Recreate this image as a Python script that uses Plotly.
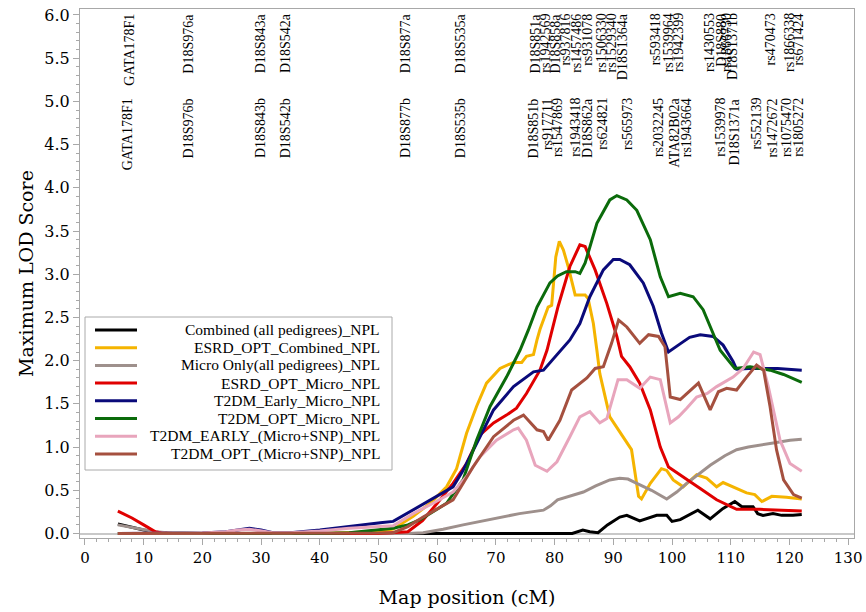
import plotly.graph_objects as go

# ---------------- data ----------------
series_names = [
    "Combined (all pedigrees)_NPL",
    "ESRD_OPT_Combined_NPL",
    "Micro Only(all pedigrees)_NPL",
    "ESRD_OPT_Micro_NPL",
    "T2DM_Early_Micro_NPL",
    "T2DM_OPT_Micro_NPL",
    "T2DM_EARLY_(Micro+SNP)_NPL",
    "T2DM_OPT_(Micro+SNP)_NPL",
]
series_colors = ["#000000", "#F5B400", "#9E908C", "#E00000",
                 "#0A0A7A", "#0B6B0B", "#E8A5BC", "#A5503F"]

combined_x = [5.6, 8, 10, 12, 14, 20, 30, 40, 50, 60, 70, 80, 83, 84.8, 86, 87.4, 89, 91.1, 92.3,
              94.5, 97.4, 99.1, 100, 101.4, 102.5, 104.4, 106.5, 108.7, 110.7, 111.9, 113.8,
              114.6, 115.5, 117.2, 118.7, 120.6, 122.1]
combined_y = [0.11, 0.07, 0.04, 0.015, 0.005, 0, 0, 0, 0, 0, 0, 0, 0, 0.04, 0.02, 0.01, 0.1,
              0.19, 0.21, 0.145, 0.21, 0.21, 0.14, 0.16, 0.2, 0.27, 0.17, 0.29, 0.37, 0.31,
              0.31, 0.23, 0.21, 0.23, 0.21, 0.21, 0.22]

esrd_comb_x = [5.6, 10, 20, 30, 40, 50, 52.5, 55.9, 58.8, 61.6, 63.3, 65, 66.7, 68.4, 70.7, 73,
               74.4, 75.2, 76.4, 77, 77.5, 78.9, 79.5, 80.2, 80.8, 81.5, 82.3, 83.5, 85.2, 85.7,
               86.6, 87.2, 87.7, 89.4, 91.7, 93.1, 94.3, 94.8, 96.3, 98.2, 99.1, 100.2, 101.9,
               104.2, 105.9, 107.6, 108.7, 110.4, 112.7, 114.1, 115.3, 117, 119.5, 122.1]
esrd_comb_y = [0, 0, 0, 0, 0, 0.02, 0.05, 0.2, 0.35, 0.54, 0.75, 1.16, 1.47, 1.74, 1.91, 1.98,
               1.98, 2.05, 2.07, 2.24, 2.36, 2.62, 2.64, 3.2, 3.38, 3.28, 3.09, 2.76, 2.76, 2.72,
               2.43, 2.12, 1.85, 1.35, 1.12, 0.97, 0.43, 0.40, 0.58, 0.75, 0.73, 0.62, 0.54,
               0.68, 0.64, 0.54, 0.59, 0.54, 0.47, 0.45, 0.37, 0.43, 0.42, 0.40]

micro_x = [5.6, 8, 10, 12, 14, 20, 30, 40, 50, 55, 57.6, 61, 64.4, 67.5, 70.7, 74, 78.1, 79.3,
           80.5, 82.5, 84.9, 87, 89.4, 91.1, 92.5, 94, 96.5, 99.1, 100.8, 102.5, 104.5, 106.5,
           109, 111, 113, 115, 117.5, 120.1, 122.1]
micro_y = [0.1, 0.07, 0.04, 0.02, 0.01, 0, 0, 0, 0, 0, 0.01, 0.05, 0.1, 0.14, 0.19, 0.23, 0.27,
           0.32, 0.39, 0.43, 0.48, 0.55, 0.62, 0.64, 0.63, 0.58, 0.5, 0.4, 0.48, 0.58, 0.68,
           0.79, 0.9, 0.97, 1.0, 1.02, 1.05, 1.08, 1.09]

esrd_micro_x = [5.6, 8, 10, 12, 13, 15, 20, 30, 40, 50, 55, 57.5, 60, 62.7, 65, 67.3, 69.6,
                71.8, 73.5, 75.2, 77.5, 78.7, 80.6, 82.6, 84.3, 85.2, 86.9, 88.9, 90.6, 91.4,
                92.8, 94.5, 96.3, 98, 99.4, 101.4, 104.8, 107.6, 109.9, 111, 115, 122.1]
esrd_micro_y = [0.26, 0.18, 0.1, 0.02, 0.005, 0, 0, 0, 0, 0, 0.02, 0.15, 0.35, 0.58, 0.81,
                1.14, 1.28, 1.37, 1.45, 1.62, 1.89, 2.12, 2.63, 3.09, 3.34, 3.32, 3.05, 2.66,
                2.28, 2.05, 1.93, 1.74, 1.43, 1.0, 0.77, 0.68, 0.52, 0.39, 0.31, 0.28, 0.28,
                0.26]

t2e_micro_x = [5.6, 10, 15, 20, 24, 26, 28, 30, 32, 35, 40, 45, 48, 50.3, 52.5, 55.9, 58.8,
               62.7, 64.4, 67.3, 69.6, 73, 76.4, 78.1, 80.4, 82.6, 84.3, 86, 88.3, 90, 91.1,
               92.8, 95.1, 96.8, 98.2, 99.4, 101.5, 103, 104.8, 107, 108.7, 110.4, 111, 113,
               115.6, 118, 122.1]
t2e_micro_y = [0, 0, 0, 0.005, 0.02, 0.04, 0.06, 0.04, 0.01, 0.01, 0.04, 0.08, 0.11, 0.125,
               0.14, 0.27, 0.39, 0.54, 0.73, 1.12, 1.43, 1.70, 1.87, 1.89, 2.07, 2.24, 2.43,
               2.74, 3.05, 3.17, 3.17, 3.11, 2.90, 2.63, 2.32, 2.10, 2.2, 2.27, 2.30, 2.28,
               2.18, 1.99, 1.90, 1.91, 1.91, 1.91, 1.89]

t2o_micro_x = [5.6, 20, 40, 45, 50, 52.5, 55, 57.1, 59, 61.6, 64.4, 66.7, 69, 71.8, 74.1, 75.5,
               77, 79.2, 80.5, 82, 83.5, 84.3, 85.2, 87.2, 89.4, 90.6, 92.3, 94, 96.3, 98, 99.4,
               100.5, 101.4, 103.6, 105.3, 108.2, 110.7, 113.3, 116.7, 119, 122.1]
t2o_micro_y = [0, 0, 0, 0.01, 0.04, 0.06, 0.1, 0.16, 0.24, 0.35, 0.62, 1.08, 1.47, 1.81, 2.12,
               2.35, 2.62, 2.90, 2.98, 3.03, 3.03, 3.01, 3.13, 3.59, 3.86, 3.91, 3.86, 3.74,
               3.40, 2.97, 2.74, 2.76, 2.78, 2.74, 2.59, 2.12, 1.91, 1.93, 1.89, 1.84, 1.75]

t2e_snp_x = [5.6, 10, 15, 20, 24, 26, 28, 30, 32, 35, 40, 45, 48, 50.3, 52.5, 55.9, 59.3, 62.7,
             65, 67.3, 70.1, 73, 73.8, 75.2, 76.7, 78.7, 80.4, 82.6, 84.3, 86, 87.7, 88.9,
             90.8, 92.3, 94.5, 96.3, 98, 99.7, 101.1, 102.5, 104.2, 106, 107.6, 110.4, 112.1,
             113.9, 115, 116.4, 118.4, 120.1, 122.1]
t2e_snp_y = [0, 0, 0, 0.005, 0.02, 0.04, 0.05, 0.03, 0.01, 0.01, 0.03, 0.06, 0.07, 0.08, 0.09,
             0.23, 0.35, 0.48, 0.66, 0.89, 1.08, 1.20, 1.22, 1.08, 0.79, 0.72, 0.83, 1.12, 1.35,
             1.41, 1.28, 1.33, 1.78, 1.78, 1.68, 1.81, 1.78, 1.28, 1.35, 1.45, 1.58, 1.62, 1.70,
             1.81, 1.91, 2.10, 2.07, 1.70, 1.08, 0.81, 0.72]

t2o_snp_x = [5.6, 20, 40, 50, 52.5, 55, 57.6, 60, 62.7, 66.1, 69.6, 73, 74.7, 77, 78.1, 78.9,
             80.9, 82.9, 84.3, 85.5, 86.9, 88.3, 89.7, 90.9, 92.3, 94.5, 96, 97.7, 98.8, 99.4,
             99.7, 101.4, 103.1, 104.5, 106.5, 107.9, 109.3, 111, 112.7, 114.4, 115.6, 116.7,
             117.8, 119, 120.7, 122.1]
t2o_snp_y = [0, 0, 0, 0.005, 0.01, 0.08, 0.19, 0.28, 0.39, 0.77, 1.12, 1.31, 1.37, 1.20, 1.18,
             1.08, 1.31, 1.66, 1.74, 1.80, 1.91, 1.93, 2.20, 2.47, 2.39, 2.20, 2.30, 2.28, 2.16,
             1.78, 1.58, 1.55, 1.66, 1.74, 1.43, 1.64, 1.68, 1.66, 1.81, 1.95, 1.89, 1.47, 0.97,
             0.62, 0.45, 0.41]

series_x = [combined_x, esrd_comb_x, micro_x, esrd_micro_x,
            t2e_micro_x, t2o_micro_x, t2e_snp_x, t2o_snp_x]
series_y = [combined_y, esrd_comb_y, micro_y, esrd_micro_y,
            t2e_micro_y, t2o_micro_y, t2e_snp_y, t2o_snp_y]

# marker labels (map positions in cM)
top_labels = ["GATA178F1", "D18S976a", "D18S843a", "D18S542a", "D18S877a", "D18S535a",
              "D18S851a", "rs1942569", "D18S858a", "rs937816", "rs1457486", "rs931078",
              "rs1506330", "rs1529340", "D18S1364a", "rs593418", "rs1539964", "rs1942399",
              "rs1430553", "D18S880", "rs1866730", "D18S1371b", "rs470473", "rs1866338",
              "rs671424"]
top_pos = [7.55, 17.6, 29.8, 34.2, 54.5, 63.9, 76.7, 78.5, 80.1, 81.8, 83.8, 85.6, 88.0, 89.7,
           91.7, 97.1, 99.4, 101.2, 106.5, 108.5, 109.4, 110.4, 116.7, 120.1, 121.5]
bottom_labels = ["GATA178F1", "D18S976b", "D18S843b", "D18S542b", "D18S877b", "D18S535b",
                 "D18S851b", "rs917711", "rs1547869", "rs1943418", "D18S862a", "rs624821",
                 "rs565973", "rs2032245", "ATA82B02a", "rs1943664", "rs1539978", "D18S1371a",
                 "rs552139", "rs1472672", "rs1075470", "rs1805272"]
bottom_pos = [7.2, 17.6, 29.8, 34.1, 54.5, 63.9, 76.4, 78.7, 80.5, 83.5, 85.5, 88.0, 92.3,
              97.7, 100.3, 102.5, 108.2, 110.7, 114.4, 117.2, 119.5, 121.5]

x_ticks = list(range(0, 131, 10))
y_ticks = [0.0, 0.5, 1.0, 1.5, 2.0, 2.5, 3.0, 3.5, 4.0, 4.5, 5.0, 5.5, 6.0]

# ---------------- figure ----------------
fig = go.Figure()
for name, col, xs, ys in zip(series_names, series_colors, series_x, series_y):
    fig.add_trace(go.Scatter(x=xs, y=ys, mode="lines", name=name,
                             line=dict(color=col, width=3), showlegend=False))

SERIF = "DejaVu Serif"
LAB = "Liberation Serif"
AX = "#A8A8A8"

fig.update_layout(
    width=866, height=612,
    margin=dict(l=80, r=12, t=9, b=74),
    paper_bgcolor="white", plot_bgcolor="white",
    font=dict(family=SERIF, color="black"),
    xaxis=dict(range=[-0.85, 131], tickmode="array", tickvals=x_ticks,
               ticktext=[str(v) for v in x_ticks], automargin=False,
               showgrid=False, zeroline=False, showline=True, linecolor=AX, linewidth=1,
               mirror=True, ticks="outside", ticklen=6, tickcolor=AX,
               minor=dict(dtick=2, ticks="outside", ticklen=3, tickcolor=AX),
               tickfont=dict(family=SERIF, size=15, color="black"),
               title=dict(text="Map position (cM)", font=dict(family=SERIF, size=19),
                          standoff=24)),
    yaxis=dict(range=[-0.052, 6.069], tickmode="array", tickvals=y_ticks,
               ticktext=["%.1f" % v for v in y_ticks], automargin=False,
               showgrid=False, zeroline=True, zerolinecolor="#C8C8C8", zerolinewidth=1.5,
               showline=True, linecolor=AX, linewidth=1, mirror=True,
               ticks="outside", ticklen=6, tickcolor=AX,
               minor=dict(dtick=0.1, ticks="outside", ticklen=3, tickcolor=AX),
               tickfont=dict(family=SERIF, size=16, color="black"),
               title=dict(text="Maximum LOD Score", font=dict(family=SERIF, size=19),
                          standoff=5)),
)

annotations = []
for lab, pos in zip(top_labels, top_pos):
    annotations.append(dict(x=pos, y=6.03, xref="x", yref="y", text=lab, textangle=-90,
                            xanchor="center", yanchor="top", showarrow=False,
                            font=dict(family=LAB, size=14, color="black"), borderpad=0))
for lab, pos in zip(bottom_labels, bottom_pos):
    annotations.append(dict(x=pos, y=5.05, xref="x", yref="y", text=lab, textangle=-90,
                            xanchor="center", yanchor="top", showarrow=False,
                            font=dict(family=LAB, size=14, color="black"), borderpad=0))

# custom legend (box, line samples, right-aligned labels) in paper coordinates
W, H, L, T = 774.0, 529.0, 80.0, 9.0
def px(xp):
    return (xp - L) / W
def py(yp):
    return (T + H - yp) / H

shapes = [dict(type="rect", xref="paper", yref="paper", x0=px(85), x1=px(392),
               y0=py(470), y1=py(317), line=dict(color="#AAAAAA", width=1),
               fillcolor="white", layer="below")]
for i, (name, col) in enumerate(zip(series_names, series_colors)):
    yrow = 330 + 17.7 * i
    shapes.append(dict(type="line", xref="paper", yref="paper", x0=px(95), x1=px(137),
                       y0=py(yrow), y1=py(yrow), line=dict(color=col, width=3)))
    annotations.append(dict(x=px(382), y=py(yrow), xref="paper", yref="paper", text=name,
                            xanchor="right", yanchor="middle", showarrow=False,
                            font=dict(family=LAB, size=15.5, color="black")))

fig.update_layout(annotations=annotations, shapes=shapes)
fig.write_html("out.html", config={"displayModeBar": False},
               post_script="document.body.style.margin='0px';document.body.style.padding='0px';")
